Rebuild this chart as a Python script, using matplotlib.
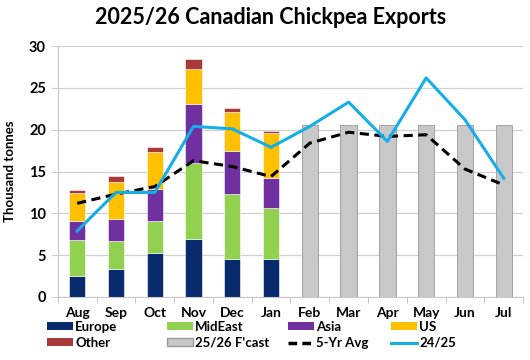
import numpy as np
import matplotlib.pyplot as plt
from matplotlib.lines import Line2D
from matplotlib.patches import Patch

months = ['Aug', 'Sep', 'Oct', 'Nov', 'Dec', 'Jan', 'Feb', 'Mar', 'Apr', 'May', 'Jun', 'Jul']

# actual 2025/26 exports by destination (thousand tonnes), Aug-Jan
europe = [2.5, 3.3, 5.3, 6.9, 4.6, 4.5]
mideast = [4.3, 3.45, 3.8, 9.1, 7.7, 6.2]
asia = [2.3, 2.55, 3.8, 7.1, 5.2, 3.5]
us = [3.3, 4.4, 4.4, 4.1, 4.6, 5.4]
other = [0.4, 0.8, 0.6, 1.2, 0.5, 0.3]

# forecast, Feb-Jul
fcast = [20.6, 20.6, 20.6, 20.6, 20.6, 20.6]

avg5 = [11.2, 12.3, 13.2, 16.3, 15.6, 14.4, 18.4, 19.7, 19.2, 19.4, 15.3, 13.4]
prev = [7.9, 12.5, 12.5, 20.4, 20.1, 17.9, 20.4, 23.3, 18.6, 26.2, 21.2, 14.2]

colors = {
    'Europe': '#0a2a6e',
    'MidEast': '#92d050',
    'Asia': '#7030a0',
    'US': '#ffc000',
    'Other': '#a83a3a',
    'fcast': '#c8c8c8',
}

plt.rcParams['font.family'] = ['Lato', 'DejaVu Sans']

fig = plt.figure(figsize=(5.3, 3.6), dpi=100)
ax = fig.add_axes([0.109, 0.175, 0.878, 0.697])

x = np.arange(len(months))
w = 0.42
xa = x[:6]
bottom = np.zeros(6)
for name, vals in [('Europe', europe), ('MidEast', mideast), ('Asia', asia),
                   ('US', us), ('Other', other)]:
    ax.bar(xa, vals, w, bottom=bottom, color=colors[name], edgecolor='white',
           linewidth=0.4, zorder=2)
    bottom += np.array(vals)

ax.bar(x[6:], fcast, w, color=colors['fcast'], edgecolor='#999999',
       linewidth=0.6, zorder=2)

ax.plot(x, avg5, color='black', linestyle=(0, (3, 1.8)), linewidth=2.2, zorder=3)
ax.plot(x, prev, color='#16aee8', linewidth=2.2, zorder=4)

ax.set_xlim(-0.5, 11.5)
ax.set_ylim(0, 30)
ax.set_yticks(range(0, 31, 5))
ax.set_xticks(x)
ax.set_xticklabels(months, fontweight='bold', fontsize=10)
ax.set_xticks(np.arange(-0.5, 12, 1), minor=True)
ax.tick_params(axis='x', which='major', length=0, pad=7)
ax.tick_params(axis='x', which='minor', length=4, color='#bbbbbb')
ax.tick_params(axis='y', length=5, color='#cccccc', labelsize=10.5)
for lab in ax.get_yticklabels():
    lab.set_fontweight('bold')
ax.yaxis.grid(True, color='#d0d0d0', linewidth=0.9, zorder=0)
ax.set_axisbelow(True)
for s in ['top', 'right']:
    ax.spines[s].set_visible(False)
ax.spines['left'].set_color('#c8c8c8')
ax.spines['bottom'].set_color('#c8c8c8')
ax.set_ylabel('Thousand tonnes', fontweight='bold', fontsize=9.5, labelpad=9)

fig.text(0.51, 0.952, '2025/26 Canadian Chickpea Exports', ha='center', va='center',
         fontsize=15.5, fontweight='bold')

# legend laid out as four columns of two entries
columns = [
    ([Patch(facecolor=colors['Europe']), Patch(facecolor=colors['Other'])],
     ['Europe', 'Other'], 47),
    ([Patch(facecolor=colors['MidEast']), Patch(facecolor=colors['fcast'], edgecolor='#999999')],
     ['MidEast', "25/26 F'cast"], 167),
    ([Patch(facecolor=colors['Asia']),
      Line2D([], [], color='black', linestyle=(0, (2.5, 1.5)), linewidth=2.5)],
     ['Asia', '5-Yr Avg'], 288),
    ([Patch(facecolor=colors['US']), Line2D([], [], color='#16aee8', linewidth=2.2)],
     ['US', '24/25'], 391),
]
for hs, ls, px in columns:
    leg = fig.legend(hs, ls, loc='upper left', bbox_to_anchor=(px / 530, 1 - 321 / 360),
                     frameon=False, prop={'weight': 'bold', 'size': 9.5},
                     handlelength=2.0, handleheight=0.55, handletextpad=0.15,
                     labelspacing=0.3, borderpad=0, borderaxespad=0)

fig.savefig('out.png', dpi=100)
